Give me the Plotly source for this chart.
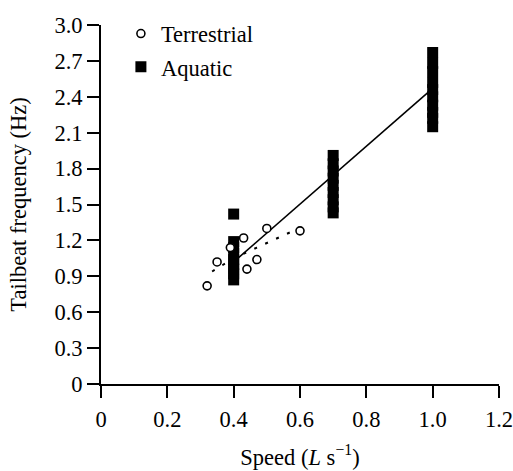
import plotly.graph_objects as go

# Terrestrial (open circles)
terr_x = [0.32, 0.35, 0.39, 0.43, 0.44, 0.47, 0.50, 0.60]
terr_y = [0.82, 1.02, 1.14, 1.22, 0.96, 1.04, 1.30, 1.28]

# Aquatic (filled squares)
aqua_x = [0.4] * 9 + [0.7] * 9 + [1.0] * 10
aqua_y = [0.87, 0.92, 0.96, 1.00, 1.04, 1.09, 1.14, 1.19, 1.42,
          1.43, 1.48, 1.54, 1.60, 1.66, 1.72, 1.78, 1.84, 1.91,
          2.15, 2.22, 2.27, 2.33, 2.40, 2.46, 2.52, 2.61, 2.68, 2.77]

# Regression lines
aqua_fit_x = [0.40, 1.00]
aqua_fit_y = [1.02, 2.47]
terr_fit_x = [0.335, 0.40, 0.47, 0.53, 0.58]
terr_fit_y = [0.94, 1.05, 1.14, 1.22, 1.28]

x_ticks = [0, 0.2, 0.4, 0.6, 0.8, 1.0, 1.2]
x_labels = ["0", "0.2", "0.4", "0.6", "0.8", "1.0", "1.2"]
y_ticks = [0, 0.3, 0.6, 0.9, 1.2, 1.5, 1.8, 2.1, 2.4, 2.7, 3.0]
y_labels = ["0", "0.3", "0.6", "0.9", "1.2", "1.5", "1.8", "2.1", "2.4", "2.7", "3.0"]

FONT = "Liberation Serif, Times New Roman, serif"
FS = 22.5

fig = go.Figure()
fig.add_trace(go.Scatter(x=aqua_fit_x, y=aqua_fit_y, mode="lines",
                         line=dict(color="black", width=1.6), showlegend=False))
fig.add_trace(go.Scatter(x=terr_fit_x, y=terr_fit_y, mode="lines",
                         line=dict(color="black", width=2, dash="3px,9px"), showlegend=False))
fig.add_trace(go.Scatter(x=aqua_x, y=aqua_y, mode="markers", name="Aquatic",
                         legendrank=2, legendgroup="a",
                         marker=dict(symbol="square", size=11, color="black",
                                     line=dict(width=0))))
fig.add_trace(go.Scatter(x=terr_x, y=terr_y, mode="markers", name="Terrestrial",
                         legendrank=1, legendgroup="t",
                         marker=dict(symbol="circle", size=8, color="white",
                                     line=dict(color="black", width=1.6))))

axis_common = dict(showline=True, linecolor="black", linewidth=2, ticks="outside",
                   ticklen=12, tickwidth=2, tickcolor="black", showgrid=False,
                   zeroline=False, automargin=False, ticklabeloverflow="allow",
                   tickfont=dict(family=FONT, size=FS, color="black"))

fig.update_layout(
    width=513, height=471,
    margin=dict(l=101, r=14, t=15, b=87),
    paper_bgcolor="white", plot_bgcolor="white",
    font=dict(family=FONT, size=FS, color="black"),
    xaxis=dict(range=[0, 1.2], tickvals=x_ticks, ticktext=x_labels,
               ticklabelstandoff=2,
               title=dict(text="Speed (<i>L</i> s<sup>−1</sup>)", standoff=18,
                          font=dict(family=FONT, size=FS)), **axis_common),
    yaxis=dict(range=[0, 3.0], tickvals=y_ticks, ticktext=y_labels,
               title=dict(text="Tailbeat frequency (Hz)", standoff=22,
                          font=dict(family=FONT, size=FS)), **axis_common),
    legend=dict(x=0.05, y=1.035, xanchor="left", yanchor="top",
                traceorder="grouped", tracegroupgap=1,
                bgcolor="rgba(0,0,0,0)", font=dict(family=FONT, size=FS)),
)

fig.write_html("out.html")
